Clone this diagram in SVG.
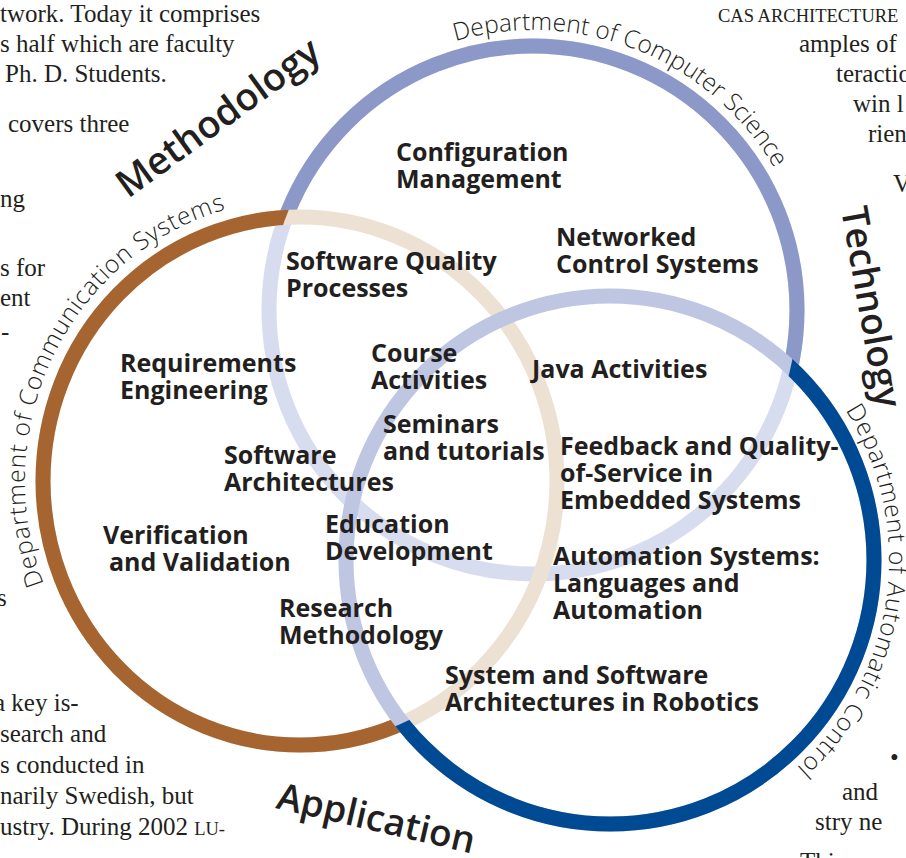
<svg xmlns="http://www.w3.org/2000/svg" width="906" height="858" viewBox="0 0 906 858">
<style>
.body{font-family:"Liberation Serif","Times New Roman",serif;font-size:25px;fill:#231f20}
.sc{font-size:18.5px}
.lbl{font-family:"Open Sans","Liberation Sans",sans-serif;font-weight:700;font-size:25px;fill:#231f20}
.big{font-family:"Open Sans","Liberation Sans",sans-serif;font-weight:600;font-size:37px;fill:#231f20}
.dept{font-family:"Open Sans","Liberation Sans",sans-serif;font-weight:300;font-size:24.5px;fill:#231f20}
.ring{fill:none;stroke-width:15}
</style>
<defs>
<ellipse id="shBr" cx="300" cy="481" rx="257" ry="264"/>
<circle id="shCs" cx="533" cy="310" r="264"/>
<circle id="shAc" cx="610" cy="560" r="264"/>
<mask id="mCs" maskUnits="userSpaceOnUse" x="0" y="0" width="906" height="858">
<rect width="906" height="858" fill="#fff"/>
<use href="#shBr" fill="#000"/><use href="#shAc" fill="#000"/>
</mask>
<mask id="mBr" maskUnits="userSpaceOnUse" x="0" y="0" width="906" height="858">
<rect width="906" height="858" fill="#fff"/>
<use href="#shCs" fill="#000"/><use href="#shAc" fill="#000"/>
</mask>
<mask id="mAc" maskUnits="userSpaceOnUse" x="0" y="0" width="906" height="858">
<rect width="906" height="858" fill="#fff"/>
<use href="#shCs" fill="#000"/><use href="#shBr" fill="#000"/>
</mask>
<path id="pCs" d="M437.2,46.9 A280,280 0 0 1 813,310"/>
<path id="pBr" d="M61.8,622 A275,282 0 0 1 300,199"/>
<path id="pAc" d="M807.3,362.7 A279,279 0 0 1 610,839"/>
</defs>
<rect width="906" height="858" fill="#fff"/>

<g id="page-text" class="body">
<text x="0" y="22">twork. Today it comprises</text>
<text x="0" y="52">s half which are faculty</text>
<text x="5" y="82">Ph. D. Students.</text>
<text x="8" y="132">covers three</text>
<text x="0" y="207">ng</text>
<text x="0" y="276">s for</text>
<text x="0" y="306">ent</text>
<text x="1" y="340">-</text>
<text x="-3" y="606">s</text>
<text x="-6" y="711">a key is-</text>
<text x="0" y="742">search  and</text>
<text x="0" y="773">s conducted in</text>
<text x="0" y="804">narily Swedish, but</text>
<text x="0" y="835">ustry. During 2002 <tspan class="sc">LU-</tspan></text>
<text x="718" y="22" class="body sc">CAS ARCHITECTURE</text>
<text x="799" y="52">amples of</text>
<text x="836" y="82">teractio</text>
<text x="853" y="112">win  l</text>
<text x="868" y="142">rien</text>
<text x="893" y="192">V</text>
<text x="890" y="766">•</text>
<text x="842" y="800">and</text>
<text x="815" y="830">stry ne</text>
<text x="800" y="870">This</text>
</g>

<g id="circle-computer-science">
<use href="#shCs" class="ring" stroke="#d8dcef"/>
<use href="#shCs" class="ring" stroke="#8c99c8" mask="url(#mCs)"/>
</g>
<g id="circle-communication-systems">
<use href="#shBr" class="ring" stroke="#ede1d4"/>
<use href="#shBr" class="ring" stroke="#a66430" mask="url(#mBr)"/>
</g>
<g id="circle-automatic-control">
<use href="#shAc" class="ring" stroke="#bec6e1"/>
<use href="#shAc" class="ring" stroke="#004a93" mask="url(#mAc)"/>
</g>

<g id="dept-labels" class="dept">
<text><textPath href="#pCs" startOffset="19">Department of Computer Science</textPath></text>
<text letter-spacing="0.8"><textPath href="#pBr" startOffset="42">Department of Communication Systems</textPath></text>
<text letter-spacing="0.8"><textPath href="#pAc" startOffset="61">Department of Automatic Control</textPath></text>
</g>

<g id="axis-labels" class="big">
<text transform="translate(128,199) rotate(-36)" font-size="38">Methodology</text>
<text transform="translate(841,209) rotate(80)">Technology</text>
<text transform="translate(275,808) rotate(13)">Application</text>
</g>

<g class="lbl">
<g id="n-config"><text x="396" y="161">Configuration</text><text x="396" y="188">Management</text></g>
<g id="n-networked"><text x="556" y="246">Networked</text><text x="556" y="273">Control Systems</text></g>
<g id="n-sqp"><text x="286" y="270">Software Quality</text><text x="286" y="297">Processes</text></g>
<g id="n-course"><text x="371" y="362">Course</text><text x="371" y="389">Activities</text></g>
<g id="n-java"><text x="532" y="378">Java Activities</text></g>
<g id="n-req"><text x="120" y="372">Requirements</text><text x="120" y="399">Engineering</text></g>
<g id="n-seminars"><text x="383" y="433">Seminars</text><text x="383" y="460">and tutorials</text></g>
<g id="n-swarch"><text x="224" y="464">Software</text><text x="224" y="491">Architectures</text></g>
<g id="n-feedback"><text x="560" y="455">Feedback and Quality-</text><text x="560" y="482">of-Service in</text><text x="560" y="509">Embedded Systems</text></g>
<g id="n-edu"><text x="325" y="533">Education</text><text x="325" y="560">Development</text></g>
<g id="n-vv"><text x="103" y="544">Verification</text><text x="109" y="571">and Validation</text></g>
<g id="n-auto"><text x="553" y="565">Automation Systems:</text><text x="553" y="592">Languages and</text><text x="553" y="619">Automation</text></g>
<g id="n-research"><text x="279" y="617">Research</text><text x="279" y="644">Methodology</text></g>
<g id="n-robotics"><text x="445" y="684">System and Software</text><text x="445" y="711">Architectures in Robotics</text></g>
</g>
</svg>
